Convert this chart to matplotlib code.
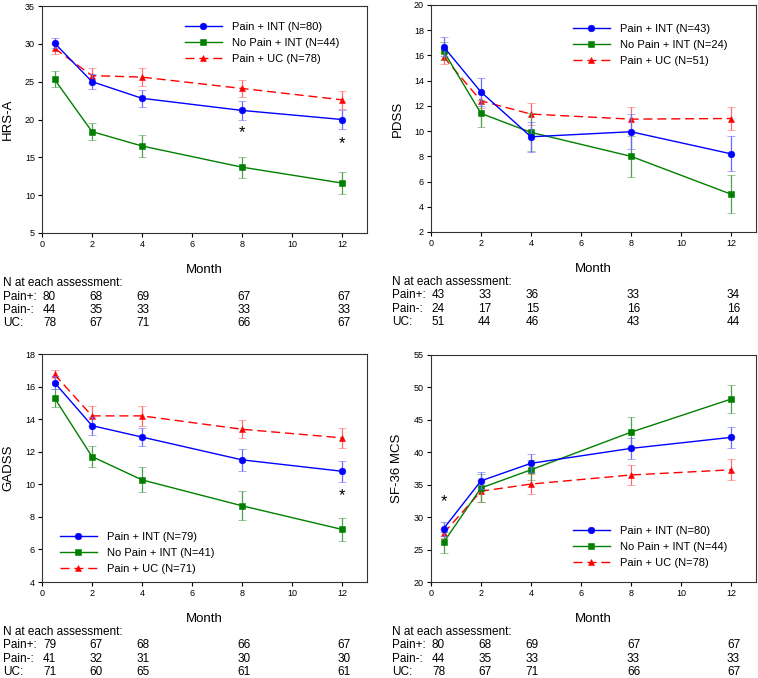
import matplotlib
matplotlib.use('Agg')
import matplotlib.pyplot as plt
from matplotlib.transforms import blended_transform_factory

plt.rcParams['font.family'] = ['Liberation Sans', 'DejaVu Sans']

months = [0.5, 2, 4, 8, 12]

# HRS-A
hrsa_pain_int = [30.1, 25.0, 22.8, 21.2, 20.0]
hrsa_pain_int_se = [0.7, 1.0, 1.1, 1.2, 1.2]
hrsa_nopain_int = [25.3, 18.4, 16.5, 13.7, 11.6]
hrsa_nopain_int_se = [1.05, 1.1, 1.5, 1.4, 1.4]
hrsa_pain_uc = [29.4, 25.8, 25.6, 24.1, 22.6]
hrsa_pain_uc_se = [0.7, 1.0, 1.15, 1.1, 1.2]
hrsa_stars = [(8, 18.3), (12, 16.8)]
hrsa_n = ['80', '44', '78']
hrsa_table = [[80, 68, 69, 67, 67], [44, 35, 33, 33, 33], [78, 67, 71, 66, 67]]

# PDSS
pdss_pain_int = [16.7, 13.1, 9.55, 9.95, 8.2]
pdss_pain_int_se = [0.75, 1.1, 1.2, 1.4, 1.4]
pdss_nopain_int = [16.35, 11.4, 9.9, 8.0, 5.0]
pdss_nopain_int_se = [0.7, 1.1, 1.5, 1.6, 1.5]
pdss_pain_uc = [15.9, 12.4, 11.35, 10.95, 11.0]
pdss_pain_uc_se = [0.6, 0.6, 0.85, 0.95, 0.95]
pdss_stars = []
pdss_n = ['43', '24', '51']
pdss_table = [[43, 33, 36, 33, 34], [24, 17, 15, 16, 16], [51, 44, 46, 43, 44]]

# GADSS
gadss_pain_int = [16.25, 13.6, 12.9, 11.5, 10.8]
gadss_pain_int_se = [0.4, 0.56, 0.53, 0.67, 0.65]
gadss_nopain_int = [15.3, 11.7, 10.27, 8.68, 7.23]
gadss_nopain_int_se = [0.53, 0.66, 0.77, 0.9, 0.72]
gadss_pain_uc = [16.75, 14.2, 14.2, 13.38, 12.85]
gadss_pain_uc_se = [0.25, 0.6, 0.6, 0.56, 0.6]
gadss_stars = [(12, 9.3)]
gadss_n = ['79', '41', '71']
gadss_table = [[79, 67, 68, 66, 67], [41, 32, 31, 30, 30], [71, 60, 65, 61, 61]]

# SF-36 MCS
mcs_pain_int = [28.2, 35.6, 38.3, 40.6, 42.3]
mcs_pain_int_se = [1.1, 1.3, 1.4, 1.6, 1.6]
mcs_nopain_int = [26.1, 34.5, 37.3, 43.1, 48.2]
mcs_nopain_int_se = [1.6, 2.1, 1.5, 2.3, 2.2]
mcs_pain_uc = [27.5, 34.0, 35.1, 36.5, 37.3]
mcs_pain_uc_se = [0.7, 1.7, 1.5, 1.5, 1.6]
mcs_stars = [(0.5, 32.4)]
mcs_n = ['80', '44', '78']
mcs_table = [[80, 68, 69, 67, 67], [44, 35, 33, 33, 33], [78, 67, 71, 66, 67]]

row_labels = ['Pain+:', 'Pain-:', 'UC:']
table_x = [0.3, 2.15, 4.05, 8.1, 12.1]

blue, blue_err = '#0000ff', '#6a6aff'
green, green_err = '#008000', '#4f9f4f'
red, red_err = '#ff0000', '#ff6a6a'

fig = plt.figure(figsize=(7.58, 6.78), dpi=100)
W, H = 758, 678


def add_axes(left, top, right, bottom):
    return fig.add_axes([left / W, 1 - bottom / H, (right - left) / W, (bottom - top) / H])


def panel(ax, ylabel, ylim, ystep, pain, pain_se, nopain, nopain_se, uc, uc_se,
          stars, ns, table, leg_anchor):
    c_uc = ax.errorbar(months, uc, yerr=uc_se, color=red, ecolor=red_err, lw=1.0,
                       ls=(0, (6.5, 3.5)), marker='^', ms=5, mew=0.4, capsize=3,
                       elinewidth=0.9, capthick=0.9, zorder=3)
    c_no = ax.errorbar(months, nopain, yerr=nopain_se, color=green, ecolor=green_err, lw=1.0,
                       marker='s', ms=4.3, mew=0.4, capsize=3, elinewidth=0.9, capthick=0.9,
                       zorder=4)
    c_p = ax.errorbar(months, pain, yerr=pain_se, color=blue, ecolor=blue_err, lw=1.0,
                      marker='o', ms=4.8, mew=0.4, capsize=3, elinewidth=0.9, capthick=0.9,
                      zorder=5)
    for sx, sy in stars:
        ax.text(sx, sy, '*', ha='center', va='center', fontsize=12)

    ax.set_xlim(0, 13)
    ax.set_ylim(*ylim)
    ax.set_xticks(range(0, 13, 2))
    ax.set_yticks(range(ylim[0], ylim[1] + 1, ystep))
    ax.tick_params(direction='out', length=3, width=0.8, labelsize=6.5, pad=2)
    for s in ax.spines.values():
        s.set_linewidth(0.8)
        s.set_color('#333333')
    ax.set_ylabel(ylabel, fontsize=9.5)
    ax.set_xlabel('Month', fontsize=9.5)
    ax.yaxis.set_label_coords(-0.085, 0.5)
    ax.xaxis.set_label_coords(0.5, -0.135)

    handles = [c_p.lines[0], c_no.lines[0], c_uc.lines[0]]
    labels = ['Pain + INT (N=%s)' % ns[0], 'No Pain + INT (N=%s)' % ns[1],
              'Pain + UC (N=%s)' % ns[2]]
    ax.legend(handles, labels, loc='upper left', bbox_to_anchor=leg_anchor,
              frameon=False, fontsize=8, handlelength=3.3, handletextpad=0.9,
              labelspacing=0.55, borderpad=0, borderaxespad=0)

    h = ax.get_position().height * H
    tr = blended_transform_factory(ax.transData, ax.transAxes)
    ax.text(-1.55, -50 / h, 'N at each assessment:', transform=tr, fontsize=8.5,
            va='center', ha='left')
    for i, lab in enumerate(row_labels):
        yy = -(63.5 + 13.3 * i) / h
        ax.text(-1.55, yy, lab, transform=tr, fontsize=8.5, va='center', ha='left')
        for tx, v in zip(table_x, table[i]):
            ax.text(tx, yy, str(v), transform=tr, fontsize=8.5, va='center', ha='center')


ax1 = add_axes(42, 6, 367, 233)
ax2 = add_axes(431, 5, 756, 232)
ax3 = add_axes(42, 354, 367, 582)
ax4 = add_axes(431, 355, 756, 582)

panel(ax1, 'HRS-A', (5, 35), 5, hrsa_pain_int, hrsa_pain_int_se, hrsa_nopain_int,
      hrsa_nopain_int_se, hrsa_pain_uc, hrsa_pain_uc_se, hrsa_stars, hrsa_n, hrsa_table,
      (0.44, 0.931))
panel(ax2, 'PDSS', (2, 20), 2, pdss_pain_int, pdss_pain_int_se, pdss_nopain_int,
      pdss_nopain_int_se, pdss_pain_uc, pdss_pain_uc_se, pdss_stars, pdss_n, pdss_table,
      (0.437, 0.917))
panel(ax3, 'GADSS', (4, 18), 2, gadss_pain_int, gadss_pain_int_se, gadss_nopain_int,
      gadss_nopain_int_se, gadss_pain_uc, gadss_pain_uc_se, gadss_stars, gadss_n, gadss_table,
      (0.055, 0.219))
panel(ax4, 'SF-36 MCS', (20, 55), 5, mcs_pain_int, mcs_pain_int_se, mcs_nopain_int,
      mcs_nopain_int_se, mcs_pain_uc, mcs_pain_uc_se, mcs_stars, mcs_n, mcs_table,
      (0.437, 0.247))

fig.savefig('out.png', dpi=100)
